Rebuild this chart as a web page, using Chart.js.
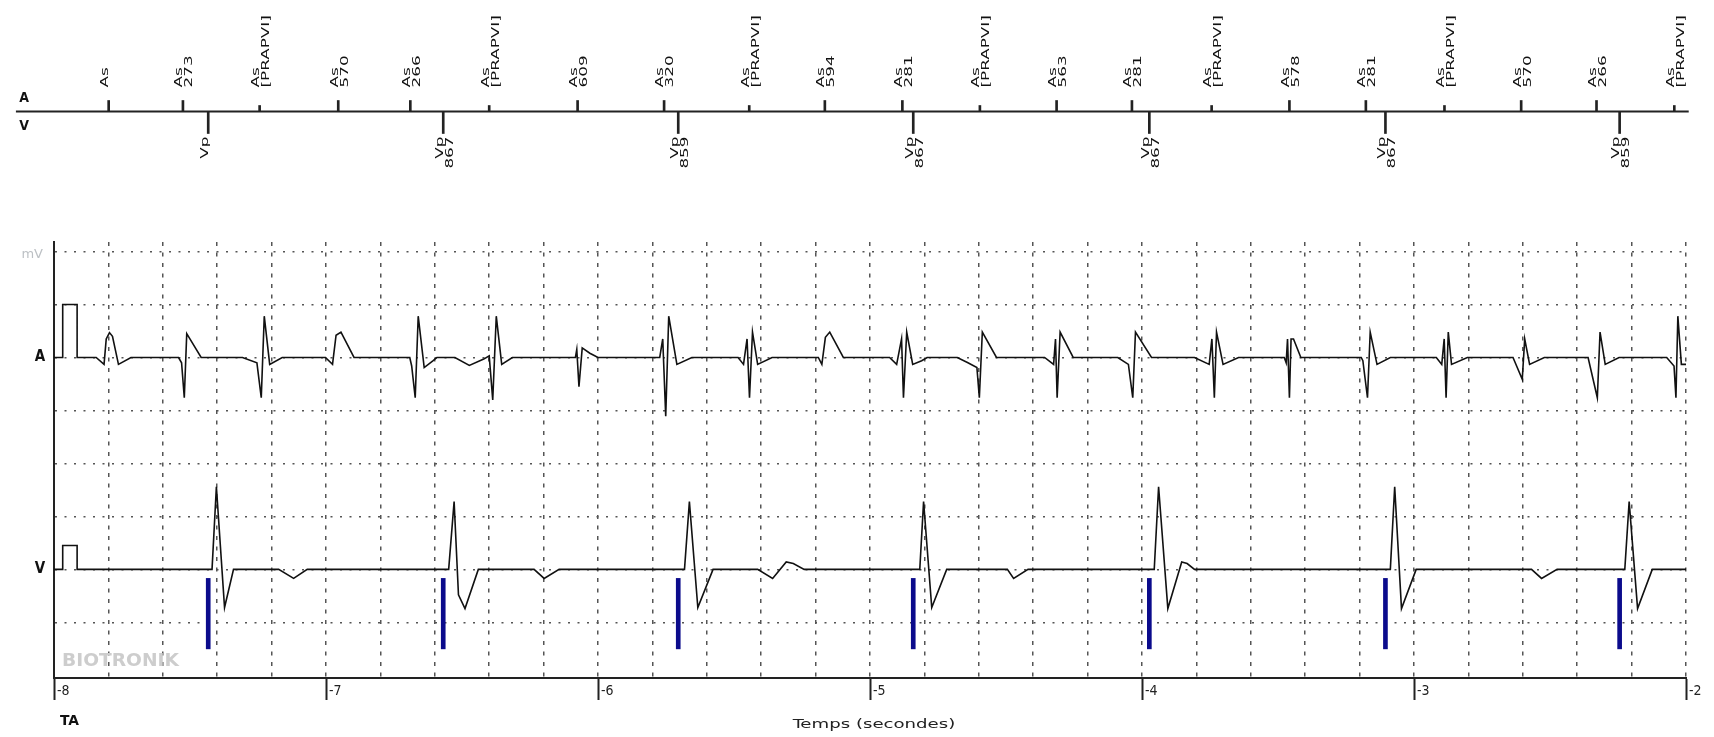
<!DOCTYPE html>
<html>
<head>
<meta charset="utf-8">
<script src="https://cdn.jsdelivr.net/npm/chart.js@4.4.1/dist/chart.umd.min.js"></script>
<style>
  html, body { margin: 0; padding: 0; background: #fff; }
  #wrap { position: relative; width: 1714px; height: 737px; overflow: hidden; background: #fff; }
  canvas { position: absolute; left: 0; }
  #markers { top: 0; }
  #egm { top: 200px; }
</style>
</head>
<body>
<div id="wrap">
  <canvas id="markers" width="1714" height="200"></canvas>
  <canvas id="egm" width="1714" height="537"></canvas>
</div>
<script>
// --- marqueurs (temps en s) ---
const aMarkerTimes = [-7.799, -7.526, -7.244, -6.955, -6.690, -6.400, -6.075, -5.757, -5.444, -5.166, -4.881,
  -4.596, -4.314, -4.037, -3.744, -3.458, -3.177, -2.888, -2.606, -2.329, -2.043];
const aMarkerValues = ['', '273', '[PRAPVI]', '570', '266', '[PRAPVI]', '609', '320', '[PRAPVI]', '594', '281',
  '[PRAPVI]', '563', '281', '[PRAPVI]', '578', '281', '[PRAPVI]', '570', '266', '[PRAPVI]'];
const vMarkerTimes = [-7.433, -6.569, -5.705, -4.841, -3.973, -3.105, -2.244];
const vMarkerValues = ['', '867', '859', '867', '867', '867', '859'];
const timeTicks = [-8, -7, -6, -5, -4, -3, -2];

// --- EGM : [temps (s), déflexion (mV)] ---
const aTrace = [
  [-8.000, 0], [-7.968, 0], [-7.968, 1.0], [-7.915, 1.0], [-7.915, 0],
  [-7.845, 0], [-7.816, -0.13], [-7.808, 0.35], [-7.796, 0.47], [-7.785, 0.4], [-7.763, -0.13], [-7.717, 0],
  [-7.542, 0], [-7.531, -0.1], [-7.521, -0.76], [-7.512, 0.45], [-7.459, 0],
  [-7.307, 0], [-7.254, -0.1], [-7.238, -0.76], [-7.227, 0.78], [-7.207, -0.13], [-7.161, 0],
  [-7.002, 0], [-6.976, -0.13], [-6.963, 0.42], [-6.945, 0.48], [-6.897, 0],
  [-6.692, 0], [-6.685, -0.16], [-6.672, -0.76], [-6.661, 0.78], [-6.639, -0.19], [-6.606, -0.06], [-6.592, 0],
  [-6.526, 0], [-6.473, -0.15], [-6.420, -0.03], [-6.400, 0.03], [-6.387, -0.8], [-6.374, 0.78], [-6.354, -0.13], [-6.315, 0],
  [-6.083, 0], [-6.078, 0.15], [-6.070, -0.55], [-6.058, 0.18], [-6.030, 0.08], [-6.000, 0],
  [-5.773, 0], [-5.762, 0.35], [-5.751, -1.11], [-5.740, 0.78], [-5.710, -0.13], [-5.655, 0],
  [-5.485, 0], [-5.465, -0.13], [-5.452, 0.35], [-5.443, -0.76], [-5.432, 0.48], [-5.413, -0.13], [-5.360, 0],
  [-5.190, 0], [-5.177, -0.13], [-5.164, 0.38], [-5.148, 0.48], [-5.098, 0],
  [-4.928, 0], [-4.902, -0.13], [-4.884, 0.35], [-4.877, -0.76], [-4.865, 0.48], [-4.843, -0.13], [-4.810, -0.06], [-4.790, 0],
  [-4.679, 0], [-4.640, -0.1], [-4.607, -0.19], [-4.598, -0.76], [-4.587, 0.48], [-4.535, 0],
  [-4.358, 0], [-4.325, -0.13], [-4.318, 0.35], [-4.312, -0.76], [-4.301, 0.48], [-4.253, 0],
  [-4.089, 0], [-4.050, -0.13], [-4.034, -0.76], [-4.024, 0.48], [-3.965, 0],
  [-3.807, 0], [-3.753, -0.13], [-3.743, 0.35], [-3.734, -0.76], [-3.726, 0.48], [-3.702, -0.13], [-3.645, 0],
  [-3.477, 0], [-3.470, -0.1], [-3.465, 0.35], [-3.458, -0.76], [-3.452, 0.35], [-3.443, 0.35], [-3.416, 0],
  [-3.194, 0], [-3.188, -0.06], [-3.171, -0.76], [-3.161, 0.48], [-3.136, -0.13], [-3.087, 0],
  [-2.918, 0], [-2.898, -0.13], [-2.889, 0.35], [-2.882, -0.76], [-2.874, 0.48], [-2.862, -0.13], [-2.804, 0],
  [-2.636, 0], [-2.602, -0.41], [-2.593, 0.35], [-2.575, -0.13], [-2.521, 0],
  [-2.360, 0], [-2.326, -0.76], [-2.316, 0.48], [-2.297, -0.13], [-2.246, 0],
  [-2.071, 0], [-2.044, -0.16], [-2.037, -0.76], [-2.030, 0.78], [-2.017, -0.13], [-2.000, -0.13]
];
const vTrace = [
  [-8.000, 0], [-7.968, 0], [-7.968, 0.45], [-7.915, 0.45], [-7.915, 0],
  [-7.419, 0], [-7.403, 1.56], [-7.373, -0.72], [-7.340, 0], [-7.174, 0], [-7.119, -0.17], [-7.069, 0],
  [-6.549, 0], [-6.529, 1.28], [-6.513, -0.48], [-6.489, -0.74], [-6.440, 0], [-6.235, 0], [-6.198, -0.17], [-6.143, 0],
  [-5.682, 0], [-5.664, 1.28], [-5.633, -0.72], [-5.577, 0], [-5.413, 0], [-5.358, -0.17], [-5.308, 0.14], [-5.282, 0.11], [-5.242, 0],
  [-4.817, 0], [-4.803, 1.28], [-4.773, -0.72], [-4.718, 0], [-4.495, 0], [-4.472, -0.17], [-4.419, 0],
  [-3.955, 0], [-3.939, 1.56], [-3.905, -0.74], [-3.854, 0.14], [-3.834, 0.11], [-3.807, 0],
  [-3.087, 0], [-3.071, 1.56], [-3.046, -0.74], [-2.992, 0], [-2.568, 0], [-2.531, -0.17], [-2.474, 0],
  [-2.225, 0], [-2.209, 1.28], [-2.178, -0.74], [-2.124, 0], [-2.000, 0]
];

// lignes de base des canaux dans l'axe des mV
const A_BASE = 6, V_BASE = 2;
const NARROW = '"DejaVu Sans Condensed", "DejaVu Sans", sans-serif';
Chart.defaults.animation = false;

const toPts = (trace, base) => trace.map(([t, mv]) => ({ x: t, y: base + mv }));

// texte tourné (étiquettes des marqueurs), étiré dans le sens de lecture
const drawRot = (ctx, txt, px, py, align) => {
    ctx.save();
    ctx.translate(px, py);
    ctx.rotate(-Math.PI / 2);
    ctx.scale(1.7, 1);
    ctx.textAlign = align;
    ctx.fillText(txt, 0, 0);
    ctx.restore();
};

// texte horizontal étiré (police étroite de l'appareil)
const drawWide = (ctx, txt, px, py, sx) => {
    ctx.save();
    ctx.translate(px, py);
    ctx.scale(sx, 1);
    ctx.fillText(txt, 0, 0);
    ctx.restore();
};

const markerText = {
    id: 'markerText',
    afterDraw(chart) {
        const { ctx, scales: { x, y } } = chart;
        ctx.save();
        ctx.fillStyle = '#111';
        ctx.font = '11px ' + NARROW;
        ctx.textBaseline = 'middle';
        aMarkerTimes.forEach((t, i) => {
            const px = x.getPixelForValue(t), py = y.getPixelForValue(24);
            drawRot(ctx, 'As', px - 3.5, py, 'left');
            if (aMarkerValues[i]) drawRot(ctx, aMarkerValues[i], px + 6.5, py, 'left');
        });
        vMarkerTimes.forEach((t, i) => {
            const px = x.getPixelForValue(t), py = y.getPixelForValue(-25);
            drawRot(ctx, 'Vp', px - 3.5, py, 'right');
            if (vMarkerValues[i]) drawRot(ctx, vMarkerValues[i], px + 6.5, py, 'right');
        });
        ctx.font = 'bold 14px ' + NARROW;
        ctx.textAlign = 'center';
        ctx.fillText('A', 24, y.getPixelForValue(13));
        ctx.fillText('V', 24, y.getPixelForValue(-15));
        ctx.restore();
    }
};

new Chart(document.getElementById('markers'), {
    type: 'bar',
    data: {
        datasets: [
            {
                type: 'line',
                data: [{ x: -8.14, y: 0 }, { x: -1.99, y: 0 }],
                borderColor: '#222', borderWidth: 2, pointRadius: 0, clip: false
            },
            {
                data: aMarkerTimes.map((t, i) => ({ x: t, y: [0, aMarkerValues[i].startsWith('[') ? 6 : 11] })),
                backgroundColor: '#222', barThickness: 2, grouped: false, borderWidth: 0
            },
            {
                data: vMarkerTimes.map(t => ({ x: t, y: [-22, 0] })),
                backgroundColor: '#222', barThickness: 2, grouped: false, borderWidth: 0
            }
        ]
    },
    options: {
        responsive: false, devicePixelRatio: 1,
        layout: { padding: { left: 54, right: 28, top: 0, bottom: 0 } },
        plugins: { legend: { display: false }, tooltip: { enabled: false } },
        scales: {
            x: { type: 'linear', display: false, min: -8, max: -2, offset: false, grid: { offset: false } },
            y: { type: 'linear', display: false, min: -88.5, max: 111.5 }
        }
    },
    plugins: [markerText]
});

const egmText = {
    id: 'egmText',
    afterDraw(chart) {
        const { ctx, scales: { y } } = chart;
        ctx.save();
        ctx.textBaseline = 'middle';
        ctx.fillStyle = '#bcc0c4';
        ctx.font = '13px "DejaVu Sans", sans-serif';
        ctx.textAlign = 'right';
        ctx.fillText('mV', 43, y.getPixelForValue(7.95));
        ctx.fillStyle = '#111';
        ctx.font = 'bold 15px ' + NARROW;
        ctx.textAlign = 'center';
        ctx.fillText('A', 40, y.getPixelForValue(A_BASE));
        ctx.fillText('V', 40, y.getPixelForValue(V_BASE));
        ctx.textAlign = 'left';
        ctx.fillStyle = '#cdcdcd';
        ctx.font = 'bold 17px ' + NARROW;
        drawWide(ctx, 'BIOTRONIK', 62, 462, 1.22);
        ctx.fillStyle = '#111';
        ctx.font = 'bold 14px ' + NARROW;
        drawWide(ctx, 'TA', 60, 521, 1.1);
        ctx.fillStyle = '#222';
        ctx.font = '13px ' + NARROW;
        ctx.textAlign = 'center';
        drawWide(ctx, 'Temps (secondes)', 874, 525, 1.55);
        ctx.restore();
    }
};

new Chart(document.getElementById('egm'), {
    type: 'line',
    data: {
        datasets: [
            { data: toPts(aTrace, A_BASE), borderColor: '#111', borderWidth: 1.6, pointRadius: 0, tension: 0 },
            { data: toPts(vTrace, V_BASE), borderColor: '#111', borderWidth: 1.6, pointRadius: 0, tension: 0 },
            {
                type: 'bar',
                data: vMarkerTimes.map(t => ({ x: t, y: [V_BASE - 1.5, V_BASE - 0.17] })),
                backgroundColor: '#0b0b8c', barThickness: 4, grouped: false, borderWidth: 0
            }
        ]
    },
    options: {
        responsive: false, devicePixelRatio: 1,
        layout: { padding: { left: 54, right: 28, top: 42, bottom: 0 } },
        plugins: { legend: { display: false }, tooltip: { enabled: false } },
        scales: {
            x: {
                type: 'linear', min: -8, max: -2, offset: false,
                ticks: { display: false, stepSize: 0.2 },
                grid: { color: '#555', lineWidth: 1.5, drawTicks: false, offset: false },
                border: { display: false, dash: [4, 6.5] },
                afterFit: s => { s.height = 0; }
            },
            xt: {
                type: 'linear', position: 'bottom', min: -8, max: -2,
                afterBuildTicks: s => { s.ticks = timeTicks.map(v => ({ value: v })); },
                ticks: {
                    align: 'start', labelOffset: 3, padding: -17, maxRotation: 0, autoSkip: false,
                    color: '#222', font: { family: NARROW, size: 14 }
                },
                grid: { drawOnChartArea: false, tickLength: 22, tickWidth: 2, tickColor: '#222' },
                border: { color: '#222', width: 2 },
                afterFit: s => { s.height = 59; }
            },
            y: {
                type: 'linear', min: -0.05, max: 8.18,
                ticks: { display: false, stepSize: 1, includeBounds: false },
                grid: {
                    color: c => (c.tick && c.tick.value >= 1) ? '#555' : 'rgba(0,0,0,0)',
                    lineWidth: 1.5, drawTicks: false
                },
                border: { color: '#222', width: 2, dash: [2, 7.5] },
                afterFit: s => { s.width = 0; }
            }
        }
    },
    plugins: [egmText]
});
</script>
</body>
</html>
